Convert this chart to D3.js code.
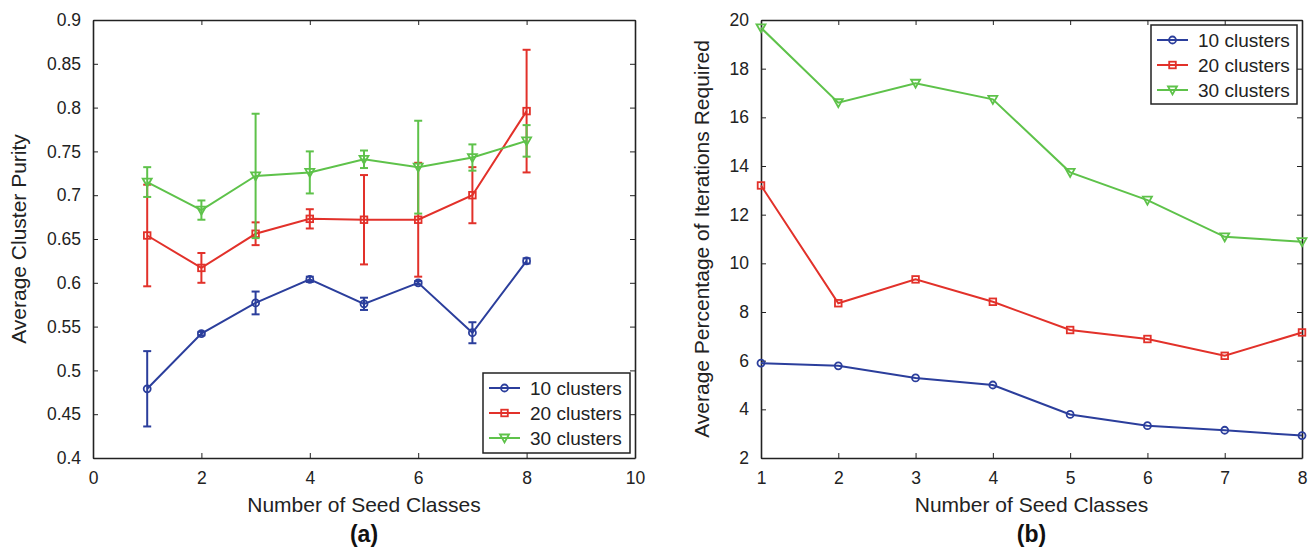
<!DOCTYPE html>
<html>
<head>
<meta charset="utf-8">
<script src="https://cdn.jsdelivr.net/npm/d3@7"></script>
<style>
  body { margin: 0; background: #fff; }
  svg { font-family: "Liberation Sans", Arial, sans-serif; }
</style>
</head>
<body>
<div id="chart"></div>
<script>
// seed classes on the x axis
var seeds = [1, 2, 3, 4, 5, 6, 7, 8]
var seriesNames = ["10 clusters", "20 clusters", "30 clusters"]
var colors = ["#2b3e9c", "#e2312a", "#5ec24a"]
var markers = ["circle", "square", "triangle"]

// (a) average cluster purity + error
var purity10 = [0.479, 0.542, 0.577, 0.604, 0.576, 0.600, 0.543, 0.625]
var purity20 = [0.654, 0.617, 0.656, 0.673, 0.672, 0.672, 0.700, 0.796]
var purity30 = [0.715, 0.683, 0.722, 0.726, 0.741, 0.732, 0.743, 0.762]
var err10 = [0.043, 0.002, 0.013, 0.003, 0.007, 0.002, 0.012, 0.003]
var err20 = [0.058, 0.017, 0.013, 0.011, 0.051, 0.065, 0.032, 0.070]
var err30 = [0.017, 0.011, 0.071, 0.024, 0.010, 0.053, 0.015, 0.018]
var ticksA_x = [0, 2, 4, 6, 8, 10]
var ticksA_y = [0.4, 0.45, 0.5, 0.55, 0.6, 0.65, 0.7, 0.75, 0.8, 0.85, 0.9]

// (b) average percentage of iterations required
var iter10 = [5.9, 5.79, 5.29, 5.0, 3.79, 3.33, 3.14, 2.92]
var iter20 = [13.2, 8.36, 9.34, 8.42, 7.26, 6.89, 6.2, 7.16]
var iter30 = [19.68, 16.6, 17.4, 16.74, 13.74, 12.6, 11.09, 10.89]
var ticksB_x = [1, 2, 3, 4, 5, 6, 7, 8]
var ticksB_y = [2, 4, 6, 8, 10, 12, 14, 16, 18, 20]

var svg = d3.select("#chart").append("svg")
  .attr("width", 1315).attr("height", 552)

function drawMarker(g, type, x, y, color) {
  if (type == "circle") {
    g.append("circle").attr("cx", x).attr("cy", y).attr("r", 3.5)
      .attr("fill", "none").attr("stroke", color).attr("stroke-width", 1.8)
  } else if (type == "square") {
    g.append("rect").attr("x", x - 3.3).attr("y", y - 3.3).attr("width", 6.6).attr("height", 6.6)
      .attr("fill", "none").attr("stroke", color).attr("stroke-width", 1.8)
  } else {
    g.append("path").attr("d", "M" + (x - 4.5) + "," + (y - 3.5) + "L" + (x + 4.5) + "," + (y - 3.5) + "L" + x + "," + (y + 4.5) + "Z")
      .attr("fill", "none").attr("stroke", color).attr("stroke-width", 1.8)
  }
}

function panel(opt) {
  var g = svg.append("g")
  var x = d3.scaleLinear().domain(opt.xdom).range([opt.left, opt.right])
  var y = d3.scaleLinear().domain(opt.ydom).range([opt.bottom, opt.top])

  // axes (inward ticks on all 4 sides, matlab style)
  g.append("g").attr("transform", "translate(0," + opt.bottom + ")")
    .call(d3.axisBottom(x).tickValues(opt.xticks).tickSizeInner(-5).tickSizeOuter(0).tickPadding(14).tickFormat(d3.format("")))
  g.append("g").attr("transform", "translate(0," + opt.top + ")")
    .call(d3.axisTop(x).tickValues(opt.xticks).tickSizeInner(-5).tickSizeOuter(0).tickFormat(""))
  g.append("g").attr("transform", "translate(" + opt.left + ",0)")
    .call(d3.axisLeft(y).tickValues(opt.yticks).tickSizeInner(-5).tickSizeOuter(0).tickPadding(12).tickFormat(d3.format("")))
  g.append("g").attr("transform", "translate(" + opt.right + ",0)")
    .call(d3.axisRight(y).tickValues(opt.yticks).tickSizeInner(-5).tickSizeOuter(0).tickFormat(""))
  g.selectAll(".domain").attr("stroke", "#222").attr("stroke-width", 1.6)
  g.selectAll(".tick line").attr("stroke", "#222").attr("stroke-width", 1)
  g.selectAll(".tick text").attr("font-size", 17.5).attr("fill", "#222")

  opt.series.forEach(function(vals, i) {
    var c = colors[i]
    if (opt.errs) {
      var e = opt.errs[i]
      seeds.forEach(function(s, j) {
        var y1 = y(vals[j] + e[j]), y2 = y(vals[j] - e[j]), xx = x(s)
        g.append("line").attr("x1", xx).attr("x2", xx).attr("y1", y1).attr("y2", y2)
          .attr("stroke", c).attr("stroke-width", 2)
        ;[y1, y2].forEach(function(yy) {
          g.append("line").attr("x1", xx - 4).attr("x2", xx + 4).attr("y1", yy).attr("y2", yy)
            .attr("stroke", c).attr("stroke-width", 2)
        })
      })
    }
    var line = d3.line().x(function(d, j) { return x(seeds[j]) }).y(function(d) { return y(d) })
    g.append("path").datum(vals).attr("d", line)
      .attr("fill", "none").attr("stroke", c).attr("stroke-width", 2)
    vals.forEach(function(v, j) { drawMarker(g, markers[i], x(seeds[j]), y(v), c) })
  })

  // legend
  var L = opt.legend
  g.append("rect").attr("x", L.x).attr("y", L.y).attr("width", L.w).attr("height", L.h)
    .attr("fill", "#fff").attr("stroke", "#222").attr("stroke-width", 1.5)
  seriesNames.forEach(function(n, i) {
    var ly = L.y + 15 + i * 25
    g.append("line").attr("x1", L.x + 6).attr("x2", L.x + 37).attr("y1", ly).attr("y2", ly)
      .attr("stroke", colors[i]).attr("stroke-width", 2)
    drawMarker(g, markers[i], L.x + 21.5, ly, colors[i])
    g.append("text").attr("x", L.x + 47).attr("y", ly + 7).attr("font-size", 19).attr("fill", "#222").text(n)
  })

  // labels
  var cx = (opt.left + opt.right) / 2
  g.append("text").attr("x", cx).attr("y", 512).attr("text-anchor", "middle")
    .attr("font-size", 21).attr("fill", "#222").text("Number of Seed Classes")
  g.append("text").attr("transform", "translate(" + opt.ylabx + "," + ((opt.top + opt.bottom) / 2) + ") rotate(-90)")
    .attr("text-anchor", "middle").attr("font-size", 21).attr("fill", "#222").text(opt.ylabel)
  g.append("text").attr("x", cx).attr("y", 542).attr("text-anchor", "middle")
    .attr("font-size", 23).attr("font-weight", "bold").attr("fill", "#111").text(opt.tag)
}

panel({
  left: 93, right: 635, top: 20, bottom: 458,
  xdom: [0, 10], ydom: [0.4, 0.9], xticks: ticksA_x, yticks: ticksA_y,
  series: [purity10, purity20, purity30], errs: [err10, err20, err30],
  legend: {x: 483, y: 373, w: 147, h: 80},
  ylabel: "Average Cluster Purity", ylabx: 26, tag: "(a)"
})

panel({
  left: 761, right: 1302, top: 20, bottom: 458,
  xdom: [1, 8], ydom: [2, 20], xticks: ticksB_x, yticks: ticksB_y,
  series: [iter10, iter20, iter30], errs: null,
  legend: {x: 1151, y: 25, w: 146, h: 79},
  ylabel: "Average Percentage of Iterations Required", ylabx: 709, tag: "(b)"
})
</script>
</body>
</html>
